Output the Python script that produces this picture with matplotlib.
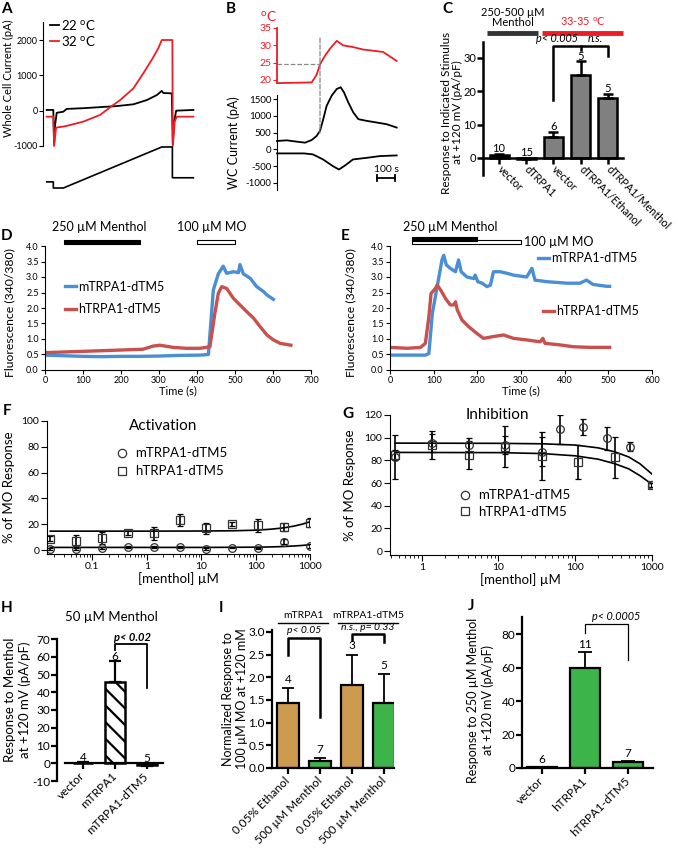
import numpy as np
import matplotlib
matplotlib.use('Agg')
import matplotlib.pyplot as plt
from matplotlib.patches import Rectangle, ConnectionPatch
from matplotlib.lines import Line2D
from matplotlib.ticker import FormatStrFormatter, FixedLocator, FixedFormatter, LogLocator, NullFormatter

# ---------------- data ----------------
# Panel A (time in ms, current in pA, voltage in mV)
a_t22 = [0, 33, 37, 42, 50, 83, 100, 183, 267, 350, 433, 500, 550, 575, 583, 625, 630, 637, 647, 733]
a_i22 = [20, 20, -950, -400, -60, -30, 50, 70, 100, 130, 180, 300, 440, 560, 500, 490, -950, -300, 0, 20]
a_t32 = [0, 33, 37, 47, 83, 100, 183, 267, 317, 367, 433, 483, 525, 558, 575, 628, 630, 640, 650, 733]
a_i32 = [-170, -170, -1000, -480, -450, -430, -310, -120, 96, 300, 630, 1060, 1440, 1770, 2000, 2000, -1000, -300, -170, -170]
a_vt = [0, 33, 33, 83, 575, 628, 628, 733]
a_mv = [-70, -70, -100, -100, 100, 100, -50, -50]

# Panel B (time in s)
b_tt = [0, 193, 220, 239, 267, 294, 332, 367, 422, 478, 572, 589, 665]
b_temp = [19.1, 19.3, 21.5, 24.5, 27, 29, 31.3, 30, 29.5, 28.8, 28.2, 28.1, 25.5]
b_t1 = [0, 54, 110, 156, 193, 220, 239, 257, 276, 304, 332, 354, 372, 396, 424, 452, 498, 554, 609, 665]
b_i1 = [250, 270, 230, 200, 280, 400, 550, 900, 1300, 1600, 1800, 1850, 1700, 1400, 1100, 900, 850, 800, 750, 650]
b_t2 = [0, 150, 200, 256, 311, 344, 378, 422, 500, 572, 665]
b_i2 = [-120, -120, -150, -300, -500, -600, -480, -300, -250, -200, -180]
b_cross = 239

# Panel C
c_labels = ['vector', 'dTRPA1', 'vector', 'dTRPA1/Ethanol', 'dTRPA1/Menthol']
c_vals = [0.8, -0.3, 6.2, 25.0, 18.0]
c_err = [0.5, 0.2, 1.5, 4.0, 1.3]
c_n = ['10', '15', '6', '5', '5']

# Panel D (time s, ratio)
d_tm = [0, 50, 100, 150, 200, 250, 300, 350, 408, 430, 443, 456, 469, 478, 496, 509, 513, 522, 540, 557, 575, 584, 601]
d_m = [0.48, 0.46, 0.44, 0.43, 0.44, 0.44, 0.45, 0.47, 0.48, 0.5, 2.58, 3.1, 3.35, 3.12, 3.17, 3.14, 3.4, 3.1, 2.96, 2.69, 2.53, 2.42, 2.28]
d_th = [0, 144, 258, 284, 302, 337, 372, 408, 434, 447, 456, 465, 478, 496, 513, 531, 549, 566, 584, 601, 619, 647]
d_h = [0.56, 0.62, 0.67, 0.77, 0.8, 0.73, 0.7, 0.7, 0.75, 1.83, 2.47, 2.69, 2.63, 2.31, 2.1, 1.88, 1.67, 1.4, 1.13, 0.97, 0.86, 0.8]

# Panel E
e_tm = [0, 81, 89, 97, 104, 112, 119, 123, 129, 138, 150, 157, 163, 176, 192, 195, 201, 211, 222, 230, 237, 252, 268, 283, 313, 325, 332, 359, 405, 435, 450, 465, 496, 503]
e_m = [0.48, 0.48, 0.53, 1.83, 2.37, 3.0, 3.55, 3.7, 3.39, 3.28, 3.17, 3.55, 3.17, 3.0, 2.95, 3.06, 2.85, 2.8, 2.69, 2.74, 3.17, 3.17, 3.12, 3.06, 3.0, 3.28, 2.9, 2.85, 2.8, 2.8, 2.9, 2.76, 2.7, 2.7]
e_th = [0, 40, 70, 81, 89, 94, 104, 108, 116, 127, 138, 146, 150, 154, 165, 180, 199, 214, 237, 260, 283, 313, 344, 350, 355, 389, 420, 458, 503]
e_h = [0.73, 0.7, 0.73, 0.86, 1.72, 2.47, 2.63, 2.74, 2.58, 2.31, 2.1, 2.1, 2.2, 1.94, 1.61, 1.4, 1.18, 1.02, 1.08, 1.13, 1.02, 0.97, 0.91, 1.02, 0.86, 0.81, 0.75, 0.73, 0.73]

# Panel F (activation)
f_conc = [0.017, 0.05, 0.15, 0.46, 1.37, 4.1, 12.3, 37, 111, 333, 1000]
f_m = [0.8, 0.8, 1.3, 2.6, 2.6, 2.6, 0.8, 2.0, 1.3, 6.5, 3.1]
f_m_err = [0.8, 1.0, 0.8, 0.8, 0.8, 0.6, 0.6, 0.6, 0.6, 2.0, 1.5]
f_h = [9.0, 7.2, 9.6, 13.4, 12.9, 23.3, 16.8, 20.2, 19.4, 18.1, 21.2]
f_h_err = [2.0, 4.5, 4.5, 1.5, 5.0, 4.5, 4.0, 1.5, 5.0, 3.0, 3.5]
f_fit_x = [0.017, 0.1, 1, 10, 40, 110, 200, 333, 500, 700, 1000]
f_fit_h = [14.7, 14.7, 14.7, 14.8, 15.0, 15.5, 16.3, 17.3, 18.6, 20.0, 22.0]
f_fit_m = [2.1, 2.1, 2.1, 2.1, 2.2, 2.3, 2.5, 2.8, 3.2, 3.6, 4.2]

# Panel G (inhibition)
g_conc_m = [0.45, 1.35, 4.1, 12.3, 37, 63, 128, 258, 523, 1000]
g_m = [83.2, 95.0, 93.5, 93.5, 87.6, 107.4, 109.7, 99.4, 92.0, 58.1]
g_m_err = [19.5, 8.0, 6.0, 8.0, 13.0, 13.0, 7.0, 10.0, 4.0, 2.0]
g_conc_h = [0.45, 1.35, 4.1, 12.3, 37, 110, 330, 1000]
g_h = [84.7, 93.5, 84.7, 92.0, 83.8, 78.2, 82.6, 58.1]
g_h_err = [4.0, 12.0, 12.0, 18.0, 21.0, 15.0, 18.0, 2.0]
g_fit_x = [0.45, 10, 37, 100, 200, 330, 500, 700, 1000]
g_fit_m = [95.2, 95.0, 94.6, 93.5, 91.0, 87.5, 83.0, 77.0, 68.0]
g_fit_h = [87.0, 86.8, 86.0, 84.0, 81.0, 77.0, 72.5, 66.5, 59.0]

# Panel H
h_labels = ['vector', 'mTRPA1', 'mTRPA1-dTM5']
h_vals = [0.3, 45.5, -0.8]
h_err = [0.3, 12.0, 0.8]
h_n = ['4', '6', '5']

# Panel I
i_labels = ['0.05% Ethanol', '500 µM Menthol', '0.05% Ethanol', '500 µM Menthol']
i_vals = [1.43, 0.15, 1.82, 1.43]
i_err = [0.34, 0.07, 0.68, 0.64]
i_n = ['4', '7', '3', '5']

# Panel J
j_labels = ['vector', 'hTRPA1', 'hTRPA1-dTM5']
j_vals = [0.3, 59.5, 3.5]
j_err = [0.2, 9.8, 0.6]
j_n = ['6', '11', '7']

# ---------------- style ----------------
W, H = 678, 852
plt.rcParams['font.family'] = ['Lato', 'DejaVu Sans']
plt.rcParams['mathtext.fontset'] = 'custom'
plt.rcParams['mathtext.rm'] = 'Lato'
plt.rcParams['axes.unicode_minus'] = False
plt.rcParams['hatch.linewidth'] = 1.6
RED = '#ee1c24'
BLUE = '#4a8ed6'
RED2 = '#c8504d'
TAN = '#cd9b50'
GREEN = '#3cb44a'
GRAY = '#808080'
DEG = r'$^{\rm o}$C'

fig = plt.figure(figsize=(W / 100, H / 100), dpi=100)
BOX = {}


def add_ax(x0, y0, x1, y1):
    a = fig.add_axes([x0 / W, 1 - y1 / H, (x1 - x0) / W, (y1 - y0) / H])
    a.patch.set_alpha(0)
    for s in ('top', 'right'):
        a.spines[s].set_visible(False)
    BOX[a] = (x0, y0, x1, y1)
    return a


def ylab(a, text, right_px, size, yfrac=0.5, **kw):
    x0, y0, x1, y1 = BOX[a]
    a.set_ylabel(text, fontsize=size, **kw)
    a.yaxis.set_label_coords((right_px - x0) / (x1 - x0), yfrac)


def plabel(x, y, s):
    fig.text(x / W, 1 - y / H, s, fontsize=11, fontweight='bold', va='top', ha='left')


# ---------------- Panel A ----------------
axA = add_ax(43.3, 22.35, 200, 146.7)
axA.plot(a_t22, a_i22, color='black', lw=1.3, clip_on=False, label='22 ' + DEG)
axA.plot(a_t32, a_i32, color=RED, lw=1.3, clip_on=False, label='32 ' + DEG)
axA.set_xlim(-17, 766)
axA.set_ylim(-1020, 2500)
axA.set_yticks([-1000, 0, 1000, 2000])
axA.spines['bottom'].set_visible(False)
axA.spines['left'].set_bounds(-1000, 2500)
axA.xaxis.set_visible(False)
axA.tick_params(axis='y', labelsize=6.5, length=3, pad=1)
ylab(axA, 'Whole Cell Current (pA)', 14, 8, 0.55)
axA.legend(loc='center left', bbox_to_anchor=(0.043, 0.918), frameon=False, fontsize=9.5,
           handlelength=0.65, handletextpad=0.2, labelspacing=0.15, borderpad=0, borderaxespad=0)
axV = add_ax(43.3, 140, 200, 195)
axV.axis('off')
axV.plot(a_vt, a_mv, color='black', lw=1.2)
axV.set_xlim(-17, 766)
axV.set_ylim(-134, 134)
plabel(1, 2, 'A')

# ---------------- Panel B ----------------
axBt = add_ax(277, 28, 401, 84.5)
axBt.plot(b_tt, b_temp, color=RED, lw=1.3, clip_on=False)
axBt.set_xlim(0, 689)
axBt.set_ylim(18.7, 35)
axBt.set_yticks([20, 25, 30, 35])
axBt.spines['bottom'].set_visible(False)
axBt.spines['left'].set_color(RED)
axBt.spines['left'].set_linewidth(1.3)
axBt.spines['left'].set_bounds(19.5, 35)
axBt.xaxis.set_visible(False)
axBt.tick_params(axis='y', colors=RED, labelsize=7.5, length=3, pad=1)
axBt.plot([0, b_cross], [24.5, 24.5], ls='--', color='#888888', lw=0.9)
axBt.text(-50, 38.3, DEG, color=RED, fontsize=10, ha='center', va='center', clip_on=False)

axBb = add_ax(277, 95, 401, 190)
axBb.plot(b_t1, b_i1, color='black', lw=1.3, clip_on=False)
axBb.plot(b_t2, b_i2, color='black', lw=1.3, clip_on=False)
axBb.set_xlim(0, 689)
axBb.set_ylim(-1210, 1620)
axBb.set_yticks([-1000, -500, 0, 500, 1000, 1500])
axBb.spines['bottom'].set_visible(False)
axBb.xaxis.set_visible(False)
axBb.tick_params(axis='y', labelsize=7, length=3, pad=1)
ylab(axBb, 'WC Current (pA)', 240, 9)
con = ConnectionPatch(xyA=(b_cross, 32.1), coordsA=axBt.transData, xyB=(b_cross, 490), coordsB=axBb.transData,
                      ls='--', color='#888888', lw=0.9)
fig.add_artist(con)
axBb.plot([555.6, 655.6], [-850, -850], color='black', lw=1.3, clip_on=False)
axBb.plot([555.6, 555.6], [-930, -770], color='black', lw=1.3, clip_on=False)
axBb.plot([655.6, 655.6], [-930, -770], color='black', lw=1.3, clip_on=False)
axBb.text(605.6, -720, '100 s', fontsize=7.5, ha='center', va='bottom', clip_on=False)
plabel(226, 2, 'B')

# ---------------- Panel C ----------------
axC = add_ax(483, 42, 623, 175)
xc = np.arange(len(c_labels))
c_cols = ['black', 'black', GRAY, GRAY, GRAY]
axC.bar(xc, c_vals, width=0.7, color=c_cols, edgecolor='black', linewidth=1.8, zorder=2)
axC.errorbar(xc, c_vals, yerr=[np.zeros(len(c_vals)), c_err], fmt='none', ecolor='black',
             elinewidth=1.8, capsize=3.5, capthick=1.8, zorder=3)
axC.set_xlim(-0.59, 4.56)
axC.set_ylim(-5.1, 34.8)
axC.set_yticks([0, 10, 20, 30])
axC.spines['bottom'].set_position(('data', 0))
axC.spines['left'].set_linewidth(1.8)
axC.spines['bottom'].set_linewidth(1.8)
axC.set_xticks(xc)
axC.set_xticklabels(c_labels, rotation=-45, ha='left', va='center', rotation_mode='anchor', fontsize=7.8)
axC.tick_params(axis='x', length=4, width=1.8, pad=3)
axC.tick_params(axis='y', length=4, width=1.8, labelsize=8, pad=1)
ylab(axC, 'Response to Indicated Stimulus\nat +120 mV (pA/pF)', 463, 8.5, 0.47, linespacing=1.0)
for i, n in enumerate(c_n):
    axC.text(xc[i], max(c_vals[i] + c_err[i], 0) + 1.6, n, ha='center', va='center', fontsize=8)
axC.plot([-0.44, 1.43], [37.5, 37.5], color='#333333', lw=3.5, solid_capstyle='butt', clip_on=False)
axC.plot([1.58, 4.56], [37.5, 37.5], color=RED, lw=3.5, solid_capstyle='butt', clip_on=False)
axC.text(0.5, 38.9, '250-500 µM\nMenthol', ha='center', va='bottom', fontsize=8, linespacing=0.95, clip_on=False)
axC.text(3.09, 38.9, '33-35 ' + DEG, ha='center', va='bottom', fontsize=7.8, color=RED, clip_on=False)
axC.plot([2, 2, 4, 4], [17.5, 33.5, 33.5, 30.5], color='black', lw=1.8, clip_on=False)
axC.plot([3, 3], [33.5, 32.3], color='black', lw=1.8, clip_on=False)
axC.text(2.12, 34.1, 'p< 0.005', style='italic', ha='center', va='bottom', fontsize=7.8, clip_on=False)
axC.text(3.53, 34.1, 'n.s.', style='italic', ha='center', va='bottom', fontsize=7.8, clip_on=False)
plabel(442, 2, 'C')


# ---------------- Panels D / E ----------------
def fluor_axes(box, xmax, lab_right):
    a = add_ax(*box)
    a.set_xlim(0, xmax)
    a.set_ylim(0, 4)
    a.set_xticks(np.arange(0, xmax + 1, 100))
    a.set_yticks(np.arange(0, 4.01, 0.5))
    a.yaxis.set_major_formatter(FormatStrFormatter('%.1f'))
    a.tick_params(labelsize=6.5, length=3, pad=1.5)
    a.set_xlabel('Time (s)', fontsize=8, labelpad=0)
    ylab(a, 'Fluorescence (340/380)', lab_right, 8.8, 0.46)
    return a


axD = fluor_axes((45, 246, 311, 370), 700, 15)
lm, = axD.plot(d_tm, d_m, color=BLUE, lw=2.4, label='mTRPA1-dTM5')
lh, = axD.plot(d_th, d_h, color=RED2, lw=2.4, label='hTRPA1-dTM5')
axD.legend(loc='center left', bbox_to_anchor=(0.075, 0.58), frameon=False, fontsize=9,
           handlelength=0.85, handletextpad=0.2, labelspacing=0.85, borderpad=0, borderaxespad=0)
axD.add_patch(Rectangle((50, 4.05), 200, 0.13, fc='black', ec='black', lw=0.8, clip_on=False))
axD.add_patch(Rectangle((400, 4.05), 100, 0.13, fc='white', ec='black', lw=0.8, clip_on=False))
axD.text(143, 4.62, '250 µM Menthol', ha='center', va='center', fontsize=9, clip_on=False)
axD.text(440, 4.62, '100 µM MO', ha='center', va='center', fontsize=9, clip_on=False)
plabel(1, 229, 'D')

axE = fluor_axes((390, 246, 652, 370), 600, 356)
em, = axE.plot(e_tm, e_m, color=BLUE, lw=2.4, label='mTRPA1-dTM5')
eh, = axE.plot(e_th, e_h, color=RED2, lw=2.4, label='hTRPA1-dTM5')
leg1 = axE.legend(handles=[em], loc='center left', bbox_to_anchor=(0.565, 0.903), frameon=False, fontsize=9,
                  handlelength=0.85, handletextpad=0.2, borderpad=0, borderaxespad=0)
axE.add_artist(leg1)
axE.legend(handles=[eh], loc='center left', bbox_to_anchor=(0.584, 0.476), frameon=False, fontsize=9,
           handlelength=0.85, handletextpad=0.2, borderpad=0, borderaxespad=0)
axE.add_patch(Rectangle((50, 4.05), 250, 0.13, fc='white', ec='black', lw=0.8, clip_on=False))
axE.add_patch(Rectangle((50, 4.15), 150, 0.13, fc='black', ec='black', lw=0.8, clip_on=False))
axE.text(137, 4.62, '250 µM Menthol', ha='center', va='center', fontsize=9, clip_on=False)
axE.text(308, 4.12, '100 µM MO', ha='left', va='center', fontsize=9, clip_on=False)
plabel(341, 229, 'E')


# ---------------- Panels F / G ----------------
def dose_axes(box, xlim, ylim, yticks, ticklabs, lab_right):
    a = add_ax(*box)
    a.set_xscale('log')
    a.set_xlim(*xlim)
    a.set_ylim(*ylim)
    a.set_yticks(yticks)
    a.xaxis.set_major_locator(FixedLocator([t for t in [0.1, 1, 10, 100, 1000] if t >= xlim[0]]))
    a.xaxis.set_major_formatter(FixedFormatter(ticklabs))
    a.xaxis.set_minor_locator(LogLocator(base=10, subs=np.arange(2, 10), numticks=20))
    a.xaxis.set_minor_formatter(NullFormatter())
    a.tick_params(which='major', labelsize=7.5, length=4, pad=1.5)
    a.tick_params(which='minor', length=2.5)
    a.set_xlabel('[menthol] µM', fontsize=9.5, labelpad=1)
    ylab(a, '% of MO Response', lab_right, 9.5)
    return a


mk = dict(mfc='none', mec='#333333', mew=0.9, ecolor='black', elinewidth=1.2, capsize=2.5, capthick=1.2)
hF = [Line2D([], [], ls='none', marker='o', ms=6, mfc='none', mec='#333333', mew=0.9),
      Line2D([], [], ls='none', marker='s', ms=6, mfc='none', mec='#333333', mew=0.9)]

axF = dose_axes((47, 421, 310.2, 554), (0.0148, 1000), (-3, 100), [0, 20, 40, 60, 80, 100],
                ['0.1', '1', '10', '100', '1000'], 15)
axF.plot(f_fit_x, f_fit_h, color='black', lw=1.2)
axF.plot(f_fit_x, f_fit_m, color='black', lw=1.2)
axF.errorbar(f_conc, f_h, yerr=f_h_err, fmt='s', ms=6, **mk)
axF.errorbar(f_conc, f_m, yerr=f_m_err, fmt='o', ms=5.5, **mk)
axF.legend(hF, ['mTRPA1-dTM5', 'hTRPA1-dTM5'], loc='center left', bbox_to_anchor=(0.264, 0.689),
           frameon=False, fontsize=9.5, handlelength=0.8, handletextpad=0.6, labelspacing=0.45,
           borderpad=0, borderaxespad=0)
axF.text(0.44, 0.962, 'Activation', transform=axF.transAxes, ha='center', va='center', fontsize=11)
plabel(3, 404, 'F')

axG = dose_axes((390, 415, 651.8, 555), (0.386, 1000), (-3.5, 120), [0, 20, 40, 60, 80, 100, 120],
                ['1', '10', '100', '1000'], 356)
axG.plot(g_fit_x, g_fit_m, color='black', lw=1.2)
axG.plot(g_fit_x, g_fit_h, color='black', lw=1.2)
axG.errorbar(g_conc_h, g_h, yerr=g_h_err, fmt='s', ms=6, **mk)
axG.errorbar(g_conc_m, g_m, yerr=g_m_err, fmt='o', ms=5.5, **mk)
axG.legend(hF, ['mTRPA1-dTM5', 'hTRPA1-dTM5'], loc='center left', bbox_to_anchor=(0.266, 0.368),
           frameon=False, fontsize=9.5, handlelength=0.8, handletextpad=0.6, labelspacing=0.35,
           borderpad=0, borderaxespad=0)
axG.text(0.41, 1.0, 'Inhibition', transform=axG.transAxes, ha='center', va='center', fontsize=11)
plabel(342, 407, 'G')


# ---------------- Panels H / I / J ----------------
def bar_axes(box, xlim, ylim, yticks, labels, zero_spine=False, bounds=None):
    a = add_ax(*box)
    if zero_spine:
        a.spines['bottom'].set_position(('data', 0))
    if bounds is not None:
        a.spines['bottom'].set_bounds(*bounds)
    a.set_xlim(*xlim)
    a.set_ylim(*ylim)
    a.set_yticks(yticks)
    a.set_xticks(np.arange(len(labels)))
    a.set_xticklabels(labels, rotation=45, ha='right', va='center', rotation_mode='anchor', fontsize=8.5)
    a.spines['left'].set_linewidth(1.6)
    a.spines['bottom'].set_linewidth(1.6)
    a.tick_params(axis='x', length=4, width=1.6, pad=4)
    a.tick_params(axis='y', length=4, width=1.6, labelsize=8.5, pad=1)
    return a


axH = bar_axes((57, 639, 165.7, 781), (-0.83, 2.6), (-10, 70), np.arange(-10, 71, 10), h_labels,
               zero_spine=True, bounds=(-0.58, 2.51))
xh = np.arange(len(h_labels))
axH.bar(xh, h_vals, width=0.63, color=['black', 'white', 'black'], edgecolor='black', linewidth=1.8,
        hatch=['', '\\\\', ''], zorder=2)
h_lo = [e if v < 0 else 0 for v, e in zip(h_vals, h_err)]
h_hi = [e if v >= 0 else 0 for v, e in zip(h_vals, h_err)]
axH.errorbar(xh, h_vals, yerr=[h_lo, h_hi], fmt='none', ecolor='black', elinewidth=1.6, capsize=4,
             capthick=1.6, zorder=3)
for i, n in enumerate(h_n):
    top = h_vals[i] + h_err[i] if h_vals[i] > 0 else 0
    axH.text(xh[i], top + 2.8, n, ha='center', va='center', fontsize=8.5)
axH.plot([1, 1, 2, 2], [63.7, 67.4, 67.4, 42.3], color='black', lw=1.3, clip_on=False)
axH.text(1.55, 67.9, 'p< 0.02', style='italic', fontweight='bold', ha='center', va='bottom', fontsize=8,
         clip_on=False)
axH.text(0.5, 1.155, '50 µM Menthol', transform=axH.transAxes, ha='center', va='center', fontsize=9.5)
ylab(axH, 'Response to Menthol\nat +120 mV (pA/pF)', 31, 9.5, 0.57)
plabel(1, 601, 'H')

axI = bar_axes((272, 630, 394, 768), (-0.5, 3.31), (0, 3.04), np.arange(0, 3.01, 0.5), i_labels)
axI.yaxis.set_major_formatter(FormatStrFormatter('%.1f'))
xi = np.arange(len(i_labels))
axI.bar(xi, i_vals, width=0.68, color=[TAN, GREEN, TAN, GREEN], edgecolor='black', linewidth=1.6, zorder=2)
axI.errorbar(xi, i_vals, yerr=[np.zeros(len(i_vals)), i_err], fmt='none', ecolor='black', elinewidth=1.3,
             capsize=4, capthick=1.3, zorder=3)
for i, n in enumerate(i_n):
    axI.text(xi[i], i_vals[i] + i_err[i] + 0.19, n, ha='center', va='center', fontsize=8.5)
axI.plot([0, 0, 1, 1], [2.49, 2.87, 2.87, 1.13], color='black', lw=1.8, clip_on=False)
axI.text(0.5, 2.93, 'p< 0.05', style='italic', ha='center', va='bottom', fontsize=7.5, clip_on=False)
axI.plot([2, 2, 3, 3], [2.82, 2.95, 2.95, 2.78], color='black', lw=1.8, clip_on=False)
axI.text(2.5, 2.99, 'n.s., p= 0.33', style='italic', ha='center', va='bottom', fontsize=7.5, clip_on=False)
axI.plot([-0.31, 1.25], [3.2, 3.2], color='black', lw=1.0, clip_on=False)
axI.plot([1.56, 3.44], [3.2, 3.2], color='black', lw=1.0, clip_on=False)
axI.text(0.47, 3.37, 'mTRPA1', ha='center', va='center', fontsize=7.5, clip_on=False)
axI.text(2.5, 3.37, 'mTRPA1-dTM5', ha='center', va='center', fontsize=7.5, clip_on=False)
ylab(axI, 'Normalized Response to\n100 µM MO at +120 mM', 248, 9)
plabel(219, 601, 'I')

axJ = bar_axes((522, 617, 653, 768), (-0.47, 2.58), (0, 90.2), [0, 20, 40, 60, 80], j_labels)
xj = np.arange(len(j_labels))
axJ.bar(xj, j_vals, width=0.7, color=GREEN, edgecolor='black', linewidth=1.6, zorder=2)
axJ.errorbar(xj, j_vals, yerr=[np.zeros(len(j_vals)), j_err], fmt='none', ecolor='black', elinewidth=1.3,
             capsize=5, capthick=1.3, zorder=3)
for i, n in enumerate(j_n):
    axJ.text(xj[i], j_vals[i] + j_err[i] + 4.7, n, ha='center', va='center', fontsize=8.5)
axJ.plot([1, 1, 2, 2], [80.6, 86, 86, 64.5], color='black', lw=0.9, clip_on=False)
axJ.text(1.72, 87, 'p< 0.0005', style='italic', ha='center', va='bottom', fontsize=7.8, clip_on=False)
ylab(axJ, 'Response to 250 µM Menthol\nat +120 mV (pA/pF)', 494, 9, 0.45)
plabel(468, 599, 'J')

fig.savefig('out.png', dpi=100)
